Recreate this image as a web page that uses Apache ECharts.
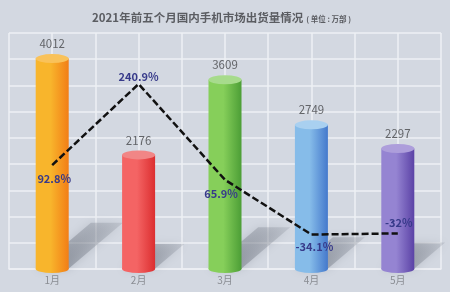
<!DOCTYPE html>
<html><head><meta charset="utf-8">
<script src="https://cdn.jsdelivr.net/npm/echarts@6/dist/echarts.min.js"></script>
<style>html,body{margin:0;padding:0;background:#d3d8e1}#c{width:450px;height:292px}</style>
</head><body><div id="c"></div>
<script>
var categories = ['1月','2月','3月','4月','5月'];
var shipments = [4012, 2176, 3609, 2749, 2297];
var growth = [92.8, 240.9, 65.9, -34.1, -32];
var growthLabels = ['92.8%','240.9%','65.9%','-34.1%','-32%'];
var titleText = '2021年前五个月国内手机市场出货量情况';
var unitText = '( 单位 : 万部 )';

var palette = [
  {l:'#f8b52c', r:'#f27e16', t:'#f9c25a'},
  {l:'#f46464', r:'#dc2e30', t:'#f18686'},
  {l:'#86cf5a', r:'#4c9e36', t:'#a7db8c'},
  {l:'#86bce9', r:'#4479cc', t:'#a9d0f0'},
  {l:'#9584d2', r:'#5b42a6', t:'#ad9edb'}
];
function grad(p){
  return new echarts.graphic.LinearGradient(0,0,1,0,[
    {offset:0,color:p.l},{offset:0.45,color:p.l},{offset:1,color:p.r}]);
}
var labelPos = [
  {position:'bottom', distance:7, offset:[2,0]},
  {position:'top', distance:1, offset:[0,0]},
  {position:'bottom', distance:8, offset:[-4,0]},
  {position:'bottom', distance:6, offset:[3,0]},
  {position:'top', distance:4, offset:[1,0]}
];
var chart = echarts.init(document.getElementById('c'));
chart.setOption({
  backgroundColor:'#d3d8e1',
  animation:false,
  title:{
    left:87, top:7,
    text:'{a|'+titleText+'}{b|'+unitText+'}',
    textStyle:{rich:{
      a:{fontFamily:'Noto Sans CJK SC',fontSize:11.5,fontWeight:'bold',color:'#5b5d62'},
      b:{fontFamily:'Noto Sans CJK SC',fontSize:7.5,color:'#5b5d62',padding:[3,0,0,3]}
    }}
  },
  grid:{left:9, right:9, top:33, bottom:23},
  xAxis:[{
    type:'category', data:categories,
    axisLine:{lineStyle:{color:'#eef0f4',width:1.5}},
    axisTick:{show:false},
    axisLabel:{color:'#8a8d93',fontSize:10,margin:6,fontFamily:'Noto Sans CJK SC'},
    splitLine:{show:false}
  },{
    type:'value', min:0, max:10, interval:1, position:'top',
    axisLine:{show:false}, axisTick:{show:false}, axisLabel:{show:false},
    splitLine:{show:true,lineStyle:{color:'#eef0f4',width:1.5}}
  }],
  yAxis:[{
    type:'value', min:0, max:4500, interval:500,
    axisLine:{show:false}, axisTick:{show:false}, axisLabel:{show:false},
    splitLine:{lineStyle:{color:'#eef0f4',width:1.5}}
  },{
    type:'value', min:-97, max:334,
    axisLine:{show:false}, axisTick:{show:false}, axisLabel:{show:false},
    splitLine:{show:false}
  }],
  series:[
    {
      type:'custom', xAxisIndex:0, yAxisIndex:0, z:1,
      data:shipments.map(function(v,i){return [i,v];}),
      renderItem:function(params, api){
        var base = api.coord([api.value(0),0]);
        var top = api.coord([api.value(0),api.value(1)]);
        var h = base[1]-top[1];
        var hw = 16;
        var dx = h*0.26, dy = h*0.22;
        return {
          type:'polygon',
          shape:{points:[[base[0]-hw,base[1]],[base[0]+hw,base[1]],[base[0]+hw+dx,base[1]-dy],[base[0]-hw+dx,base[1]-dy]]},
          style:{
            fill:new echarts.graphic.LinearGradient(0,1,1,0,[
              {offset:0,color:'rgba(95,101,113,0.55)'},
              {offset:1,color:'rgba(120,126,138,0.2)'}]),
            shadowBlur:10, shadowColor:'rgba(100,106,118,0.6)'
          }
        };
      }
    },
    {
      type:'bar', barWidth:33, z:3,
      data:shipments.map(function(v,i){return {value:v,itemStyle:{color:grad(palette[i])}};}),
      label:{show:true,position:'top',distance:9,color:'#626468',fontSize:11.5,fontFamily:'Noto Sans CJK SC'}
    },
    {
      type:'pictorialBar', symbol:'circle', symbolSize:[33,8], symbolOffset:[0,'50%'], symbolPosition:'start', z:2,
      data:shipments.map(function(v,i){return {value:v,itemStyle:{color:grad(palette[i])}};})
    },
    {
      type:'pictorialBar', symbol:'circle', symbolSize:[33,9], symbolOffset:[0,'-50%'], symbolPosition:'end', z:4,
      data:shipments.map(function(v,i){return {value:v,itemStyle:{color:palette[i].t}};})
    },
    {
      type:'line', yAxisIndex:1, z:6, symbol:'circle', symbolSize:2, showSymbol:true,
      itemStyle:{color:'rgba(0,0,0,0)'},
      lineStyle:{color:'#111',width:2.5,type:[7,3]},
      data:growth.map(function(v,i){
        return {value:v,label:{show:true,formatter:growthLabels[i],position:labelPos[i].position,distance:labelPos[i].distance,offset:labelPos[i].offset}};
      }),
      label:{show:true,color:'#373a8a',fontSize:11,fontWeight:'bold',fontFamily:'Noto Sans CJK SC'}
    }
  ]
});
</script></body></html>
